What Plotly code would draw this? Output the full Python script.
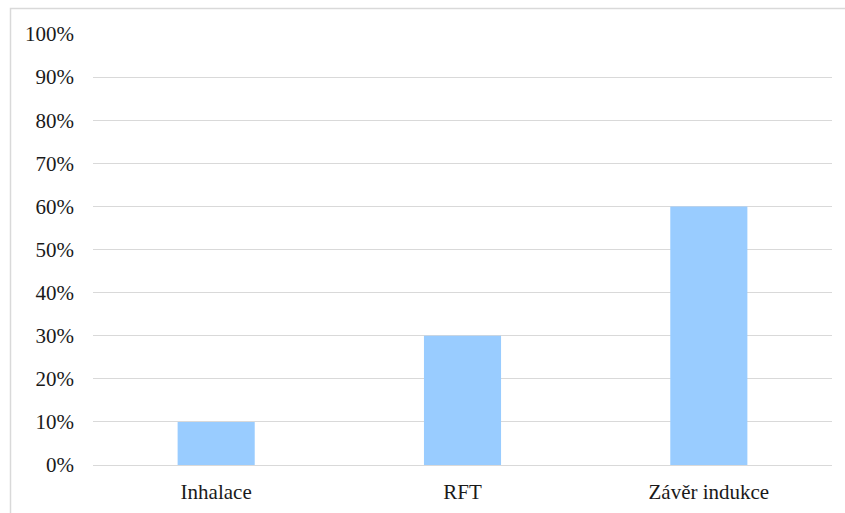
import plotly.graph_objects as go

categories = ["Inhalace", "RFT", "Závěr indukce"]
shares = [0.10, 0.30, 0.60]

fig = go.Figure(
    go.Bar(
        x=categories,
        y=shares,
        width=0.313,
        marker=dict(color="#99CCFF", line=dict(width=0)),
    )
)

W, H = 845, 513
ml, mr, mt, mb = 93, 13, 34, 48
pw, ph = W - ml - mr, H - mt - mb

# outer chart frame, partially clipped at right and bottom
fig.add_shape(
    type="rect",
    xref="paper", yref="paper",
    x0=(10.5 - ml) / pw, x1=1 + 40 / pw,
    y0=-80 / ph, y1=1 + (mt - 8.5) / ph,
    line=dict(color="#D9D9D9", width=1.5),
    fillcolor="rgba(0,0,0,0)",
    layer="below",
)

font = dict(family="Liberation Serif, Times New Roman, serif", size=21, color="#1a1a1a")

fig.update_layout(
    width=W, height=H,
    margin=dict(l=ml, r=mr, t=mt, b=mb),
    paper_bgcolor="white",
    plot_bgcolor="white",
    showlegend=False,
    font=font,
    bargap=0.687,
    xaxis=dict(
        showline=False, showgrid=False, ticks="",
        ticklabelstandoff=12,
        automargin=False,
        tickfont=font,
    ),
    yaxis=dict(
        range=[0, 1],
        dtick=0.1,
        tickformat=".0%",
        showgrid=True, gridcolor="#D9D9D9", gridwidth=1,
        zeroline=True, zerolinecolor="#D9D9D9", zerolinewidth=1,
        showline=False, ticks="",
        ticklabelstandoff=18,
        automargin=False,
        tickfont=font,
    ),
)

fig.write_html("out.html")
